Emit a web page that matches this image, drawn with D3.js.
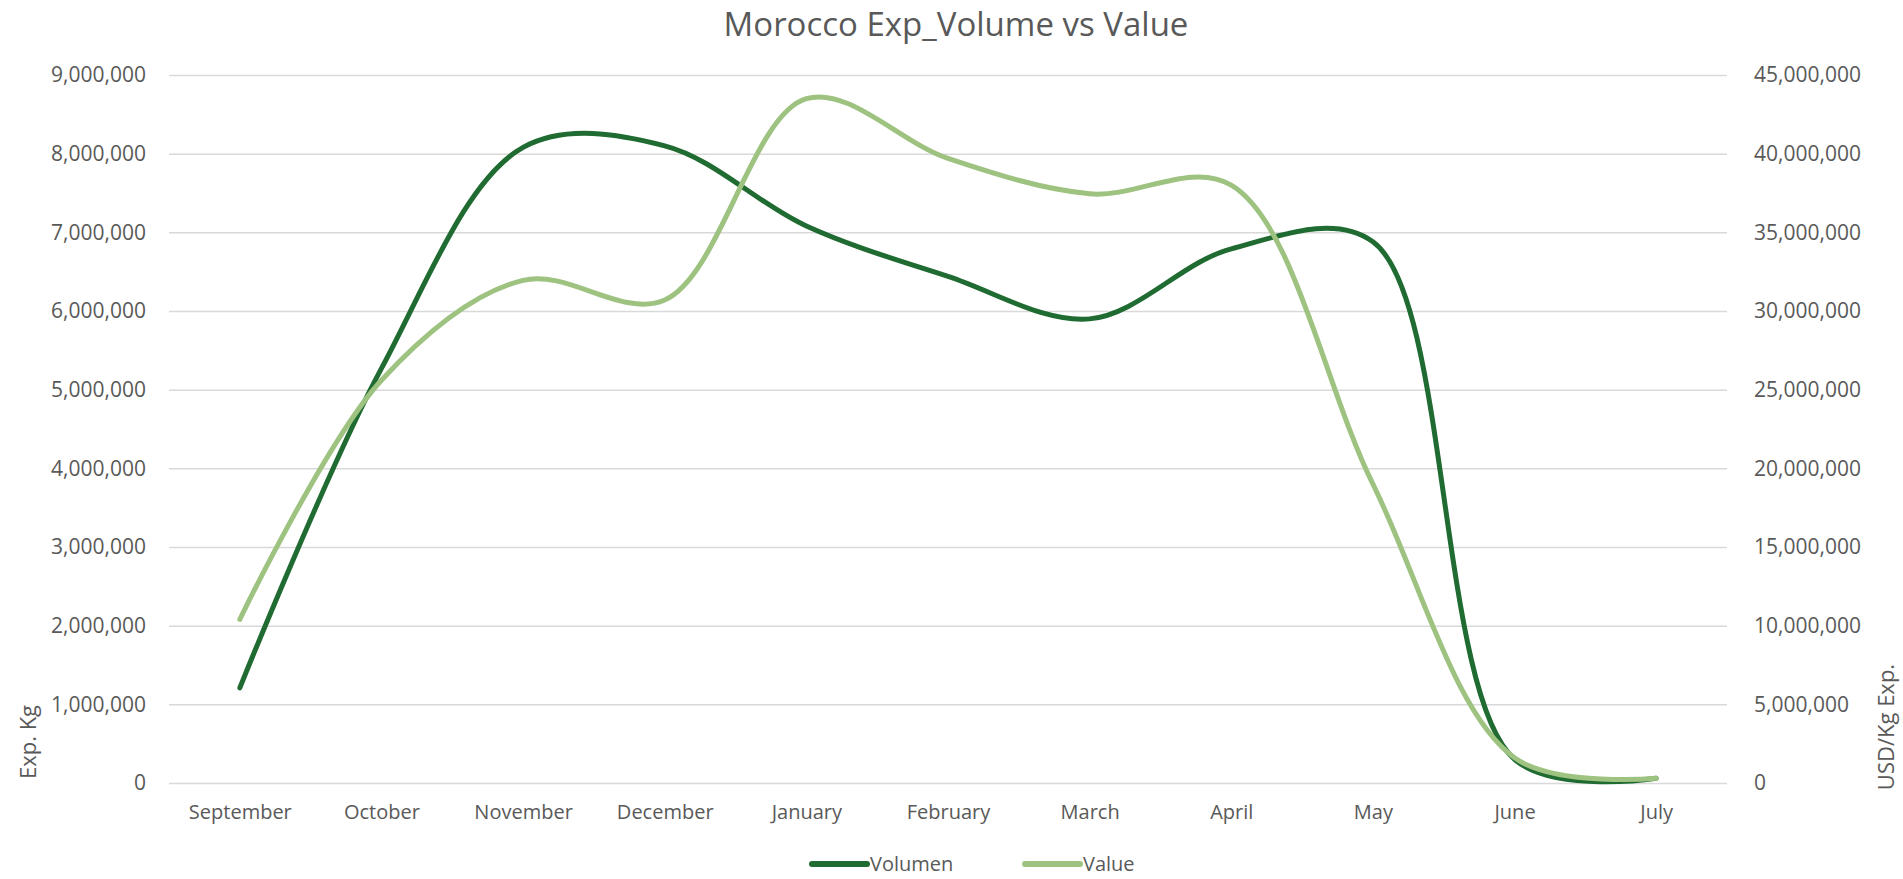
<!DOCTYPE html>
<html>
<head>
<meta charset="utf-8">
<script src="https://cdn.jsdelivr.net/npm/d3@7"></script>
<style>
  body { margin: 0; background: #fff; }
  svg { display: block; font-family: "Open Sans", sans-serif; }
</style>
</head>
<body>
<svg id="chart"></svg>
<script>
// Chart data
const months = ["September", "October", "November", "December", "January", "February",
                "March", "April", "May", "June", "July"];
const volumen = [1210000, 5270000, 8080000, 8100000, 7080000, 6440000,
                 5900000, 6790000, 6880000, 300000, 60000];
const value = [10400000, 25600000, 31950000, 30700000, 43500000, 39700000,
               37450000, 38000000, 19000000, 1600000, 300000];
const leftTicks = [0, 1000000, 2000000, 3000000, 4000000, 5000000, 6000000, 7000000, 8000000, 9000000];
const rightTicks = [0, 5000000, 10000000, 15000000, 20000000, 25000000, 30000000, 35000000, 40000000, 45000000];

const width = 1903;
const height = 879;
const margin = { top: 75, right: 176, bottom: 96, left: 169 };
const textColor = "#595959";
const darkGreen = "#1f6b31";
const lightGreen = "#9ec280";

const svg = d3.select("#chart")
    .attr("width", width)
    .attr("height", height);

// Scales
const x = d3.scalePoint()
    .domain(months)
    .range([margin.left, width - margin.right])
    .padding(0.5);

const yLeft = d3.scaleLinear()
    .domain([0, 9000000])
    .range([height - margin.bottom, margin.top]);

const yRight = d3.scaleLinear()
    .domain([0, 45000000])
    .range([height - margin.bottom, margin.top]);

const fmt = d3.format(",");

// Gridlines
svg.append("g")
    .attr("transform", `translate(${margin.left},0)`)
    .call(d3.axisLeft(yLeft).tickValues(leftTicks)
        .tickSize(-(width - margin.left - margin.right)).tickFormat(""))
    .call(g => g.select(".domain").remove())
    .call(g => g.selectAll("line").attr("stroke", "#d9d9d9").attr("stroke-width", 1.5));

// Left axis labels
svg.append("g")
    .attr("transform", `translate(${margin.left},0)`)
    .call(d3.axisLeft(yLeft).tickValues(leftTicks).tickSize(0).tickPadding(23).tickFormat(fmt))
    .call(g => g.select(".domain").remove())
    .call(g => g.selectAll("text")
        .attr("fill", textColor)
        .style("font-family", "'Open Sans', sans-serif")
        .style("font-size", "21px"));

// Right axis labels
svg.append("g")
    .attr("transform", `translate(${width - margin.right},0)`)
    .call(d3.axisRight(yRight).tickValues(rightTicks).tickSize(0).tickPadding(27).tickFormat(fmt))
    .call(g => g.select(".domain").remove())
    .call(g => g.selectAll("text")
        .attr("fill", textColor)
        .style("font-family", "'Open Sans', sans-serif")
        .style("font-size", "21px"));

// Category labels
svg.append("g")
    .attr("transform", `translate(0,${height - margin.bottom})`)
    .call(d3.axisBottom(x).tickSize(0).tickPadding(22))
    .call(g => g.select(".domain").remove())
    .call(g => g.selectAll("text")
        .attr("fill", textColor)
        .style("font-family", "'Open Sans', sans-serif")
        .style("font-size", "20px"));

// Lines (smoothed like the spreadsheet)
const curve = d3.curveCatmullRom.alpha(0.5);

const lineLeft = d3.line()
    .x((d, i) => x(months[i]))
    .y(d => yLeft(d))
    .curve(curve);

const lineRight = d3.line()
    .x((d, i) => x(months[i]))
    .y(d => yRight(d))
    .curve(curve);

svg.append("path")
    .datum(volumen)
    .attr("d", lineLeft)
    .attr("fill", "none")
    .attr("stroke", darkGreen)
    .attr("stroke-width", 5)
    .attr("stroke-linecap", "round")
    .attr("stroke-linejoin", "round");

svg.append("path")
    .datum(value)
    .attr("d", lineRight)
    .attr("fill", "none")
    .attr("stroke", lightGreen)
    .attr("stroke-width", 5)
    .attr("stroke-linecap", "round")
    .attr("stroke-linejoin", "round");

// Title
svg.append("text")
    .attr("x", 956)
    .attr("y", 36)
    .attr("text-anchor", "middle")
    .attr("fill", textColor)
    .style("font-size", "33px")
    .text("Morocco Exp_Volume vs Value");

// Axis titles
svg.append("text")
    .attr("transform", "translate(28,742) rotate(-90)")
    .attr("text-anchor", "middle")
    .attr("dy", "0.35em")
    .attr("fill", textColor)
    .style("font-size", "22px")
    .text("Exp. Kg");

svg.append("text")
    .attr("transform", "translate(1886,727) rotate(-90)")
    .attr("text-anchor", "middle")
    .attr("dy", "0.35em")
    .attr("fill", textColor)
    .style("font-size", "22px")
    .text("USD/Kg Exp.");

// Legend
const legendItems = [
    { name: "Volumen", color: darkGreen, x: 812 },
    { name: "Value", color: lightGreen, x: 1025 }
];

const legend = svg.append("g")
    .selectAll("g")
    .data(legendItems)
    .join("g")
    .attr("transform", d => `translate(${d.x},864)`);

legend.append("line")
    .attr("x1", 0)
    .attr("x2", 55)
    .attr("stroke", d => d.color)
    .attr("stroke-width", 6)
    .attr("stroke-linecap", "round");

legend.append("text")
    .attr("x", 58)
    .attr("dy", "0.35em")
    .attr("fill", textColor)
    .style("font-size", "20px")
    .text(d => d.name);
</script>
</body>
</html>
